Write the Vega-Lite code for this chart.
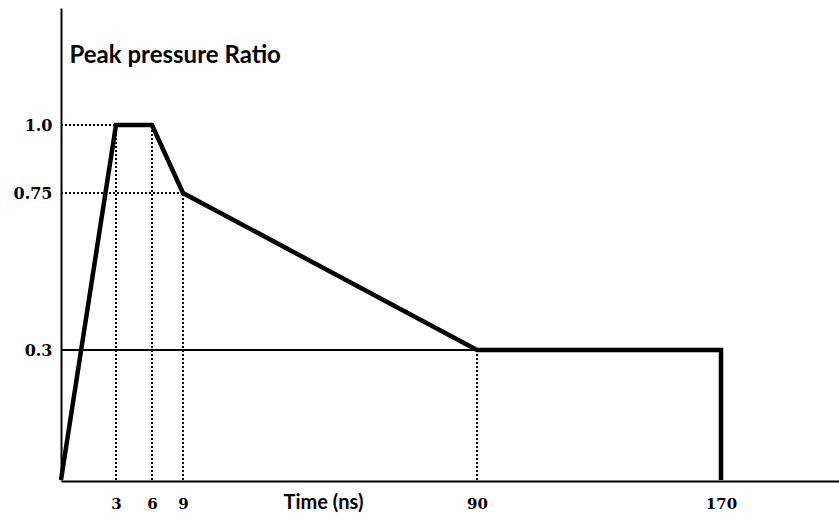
{
  "$schema": "https://vega.github.io/schema/vega-lite/v6.json",
  "width": 778,
  "height": 473,
  "autosize": "none",
  "padding": {"left": 61, "top": 8, "right": 0, "bottom": 40},
  "background": "white",
  "config": {"view": {"stroke": null}},
  "datasets": {
    "pulse": [
      {"t": 0, "p": 0},
      {"t": 3, "p": 1.0},
      {"t": 6, "p": 1.0},
      {"t": 9, "p": 0.75},
      {"t": 90, "p": 0.3},
      {"t": 170, "p": 0.3},
      {"t": 170, "p": 0}
    ],
    "guides": [
      {"t": 0, "t2": 3, "p": 1.0, "p2": 1.0},
      {"t": 0, "t2": 9, "p": 0.75, "p2": 0.75},
      {"t": 3, "t2": 3, "p": 0, "p2": 1.0},
      {"t": 6, "t2": 6, "p": 0, "p2": 1.0},
      {"t": 9, "t2": 9, "p": 0, "p2": 0.75},
      {"t": 90, "t2": 90, "p": 0, "p2": 0.3}
    ],
    "level": [
      {"t": 0, "t2": 90, "p": 0.3}
    ]
  },
  "layer": [
    {
      "data": {"name": "guides"},
      "mark": {"type": "rule", "color": "black", "strokeWidth": 2, "strokeDash": [2, 2]},
      "encoding": {
        "x": {"field": "t", "type": "quantitative"},
        "x2": {"field": "t2"},
        "y": {"field": "p", "type": "quantitative"},
        "y2": {"field": "p2"}
      }
    },
    {
      "data": {"name": "level"},
      "mark": {"type": "rule", "color": "black", "strokeWidth": 2},
      "encoding": {
        "x": {"field": "t", "type": "quantitative"},
        "x2": {"field": "t2"},
        "y": {"field": "p", "type": "quantitative"}
      }
    },
    {
      "data": {"name": "pulse"},
      "mark": {"type": "line", "color": "black", "strokeWidth": 4.5, "strokeJoin": "miter", "strokeCap": "butt"},
      "encoding": {
        "x": {
          "field": "t", "type": "quantitative",
          "scale": {"domain": [0, 3, 6, 9, 90, 170, 210], "range": [0, 55, 91, 122, 416, 660, 778], "nice": false, "zero": false},
          "axis": {
            "values": [3, 6, 9, 90, 170],
            "title": "Time (ns)",
            "titleFont": "Lato", "titleFontWeight": "bold", "titleFontSize": 20, "titleColor": "black",
            "titleX": 262, "titleY": 21, "titleAlign": "center", "titleBaseline": "middle",
            "domain": true, "domainColor": "black", "domainWidth": 2,
            "ticks": false, "grid": false,
            "labelFont": "DejaVu Serif", "labelFontWeight": "bold", "labelFontSize": 15, "labelColor": "black",
            "labelPadding": 22, "labelBaseline": "middle"
          }
        },
        "y": {
          "field": "p", "type": "quantitative",
          "scale": {"domain": [0, 0.3, 0.75, 1.0, 1.43], "range": [472, 342, 185, 117, 0], "nice": false, "zero": false},
          "axis": {
            "values": [0.3, 0.75, 1.0],
            "labelExpr": "datum.value == 1 ? '1.0' : toString(datum.value)",
            "title": "Peak pressure Ratio",
            "titleFont": "Lato", "titleFontWeight": "bold", "titleFontSize": 24, "titleColor": "black",
            "titleAngle": 0, "titleX": 8, "titleY": 47, "titleAlign": "left", "titleBaseline": "middle",
            "domain": true, "domainColor": "black", "domainWidth": 2,
            "ticks": false, "grid": false,
            "labelFont": "DejaVu Serif", "labelFontWeight": "bold", "labelFontSize": 16, "labelColor": "black",
            "labelPadding": 9, "labelBaseline": "middle"
          }
        }
      }
    }
  ]
}
